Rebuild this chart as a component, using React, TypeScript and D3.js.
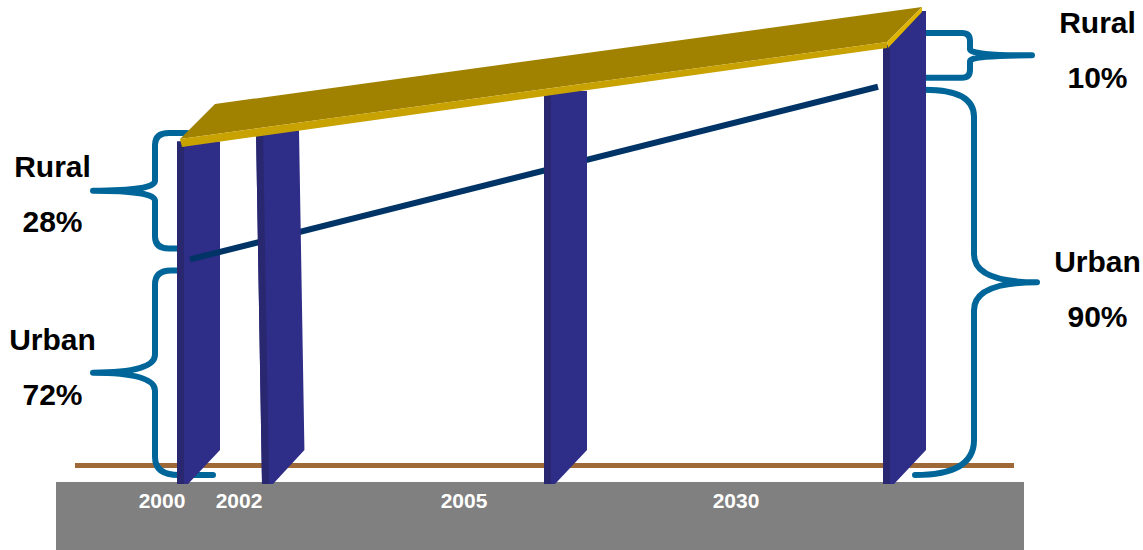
import React from "react";
import * as d3 from "d3";

// Category years shown on the ground strip
const years = ["2000", "2002", "2005", "2030"];
// Years where the urban / rural split is annotated
const shareYears = ["2000", "2030"];
const urbanPct = [72, 90];
const ruralPct = [28, 10];
const seriesNames = ["Rural", "Urban"];

const W = 1143;
const H = 550;

// Layout of the scene
const barLeft = d3.scaleOrdinal<string, number>().domain(years).range([177, 256, 544, 883]);
const barLean = d3.scaleOrdinal<string, number>().domain(years).range([0, 6, 0, 0]);
const yearLabelX = d3.scaleOrdinal<string, number>().domain(years).range([162, 239, 464, 736]);

// Front edge of the 100% slab, sloping upward to the right
const slabFront = d3.scaleLinear().domain([180, 887]).range([139, 42]);
const slabDepth = { dx: 35, dy: -35 };
// Share of the column (percent) -> pixel depth below the slab
const depth = d3.scaleLinear().domain([0, 100]).range([0, 435]);

const BAR_W = 43;
const BAR_BOTTOM = 484;
const BAR_CUT = 450;
const GROUND_Y = 465.5;

const COLORS = {
  ground: "#808080",
  groundLine: "#9E6936",
  barFace: "#2E2D87",
  barSide: "#28276F",
  slabTop: "#A08200",
  slabFront: "#C8A200",
  slabSide: "#DDB400",
  split: "#003366",
  brace: "#006699",
};

type Pt = [number, number];

// Post outline: custom top edge, straight sides, bevelled bottom-right corner
function barPath(x0: number, topPts: Pt[], lean: number) {
  const topRight = topPts[topPts.length - 1][1];
  const topLeft = topPts[0][1];
  const t = (BAR_CUT - topRight) / (BAR_BOTTOM - topRight);
  const pts: Pt[] = [
    ...topPts,
    [x0 + BAR_W + lean * t, BAR_CUT],
    [x0 + lean + 11, BAR_BOTTOM],
    [x0 + lean, BAR_BOTTOM],
    [x0, topLeft],
  ];
  return d3.line()(pts) + "Z";
}

function stripPath(x0: number, top: number, lean: number) {
  const pts: Pt[] = [
    [x0, top],
    [x0 + 7, top],
    [x0 + 7 + lean, BAR_BOTTOM],
    [x0 + lean, BAR_BOTTOM],
  ];
  return d3.line()(pts) + "Z";
}

interface BraceSpec {
  xTop: number;
  xBot: number;
  y0: number;
  y1: number;
  spine: number;
  tipX: number;
  tipY: number;
  rxT: number;
  ryT: number;
  rxB: number;
  ryB: number;
  cusp: number;
}

function bracePath(b: BraceSpec) {
  const dir = b.spine < b.xTop ? 1 : -1; // 1: opens right "{", -1: opens left "}"
  const p = d3.path();
  p.moveTo(b.xTop, b.y0);
  p.lineTo(b.spine + dir * b.rxT, b.y0);
  p.quadraticCurveTo(b.spine, b.y0, b.spine, b.y0 + b.ryT);
  p.lineTo(b.spine, b.tipY - b.cusp);
  p.quadraticCurveTo(b.spine, b.tipY, b.tipX, b.tipY);
  p.quadraticCurveTo(b.spine, b.tipY, b.spine, b.tipY + b.cusp);
  p.lineTo(b.spine, b.y1 - b.ryB);
  p.quadraticCurveTo(b.spine, b.y1, b.spine + dir * b.rxB, b.y1);
  p.lineTo(b.xBot, b.y1);
  return p.toString();
}

export default function App() {
  const frontL: Pt = [180, slabFront(180)];
  const frontR: Pt = [887, slabFront(887)];
  const backL: Pt = [frontL[0] + slabDepth.dx, frontL[1] + slabDepth.dy];
  const backR: Pt = [frontR[0] + slabDepth.dx, frontR[1] + slabDepth.dy];

  // Top outline of each post: hidden under the slab, or following its end for the last one
  const barTopPts = (y: string): Pt[] => {
    const x0 = barLeft(y);
    const t = slabFront(x0) + 2;
    if (x0 + BAR_W > frontR[0]) {
      return [
        [x0, t],
        [frontR[0], frontR[1] + 4],
        [backR[0], backR[1] + 4],
        [x0 + BAR_W, backR[1] + 4],
      ];
    }
    return [
      [x0, t],
      [x0 + BAR_W, t],
    ];
  };

  // Urban/rural split line between the first and last annotated years
  const splitX = [barLeft(shareYears[0]) + 13, barLeft(shareYears[1]) - 5];
  const splitPts: Pt[] = shareYears.map((_, i) => [
    splitX[i],
    slabFront(splitX[i]) + depth(100 - urbanPct[i]),
  ]);

  const yLeftSplit = splitPts[0][1];
  const yRightSplit = splitPts[1][1];
  const braceBottom = GROUND_Y + 9.5;

  const braces: BraceSpec[] = [
    {
      xTop: 187, xBot: 178, y0: slabFront(180) - 6, y1: yLeftSplit - 11,
      spine: 155, tipX: 93, tipY: 0, rxT: 14, ryT: 12, rxB: 14, ryB: 12, cusp: 10,
    },
    {
      xTop: 177, xBot: 213, y0: yLeftSplit + 11, y1: braceBottom,
      spine: 155, tipX: 93, tipY: 0, rxT: 16, ryT: 14, rxB: 24, ryB: 18, cusp: 18,
    },
    {
      xTop: 925, xBot: 925, y0: slabFront(887) - 9, y1: yRightSplit - 9,
      spine: 970, tipX: 1032, tipY: 0, rxT: 8, ryT: 8, rxB: 8, ryB: 8, cusp: 6,
    },
    {
      xTop: 925, xBot: 915, y0: yRightSplit + 3, y1: braceBottom,
      spine: 974, tipX: 1037, tipY: 0, rxT: 49, ryT: 27, rxB: 59, ryB: 35, cusp: 28,
    },
  ].map((b) => ({ ...b, tipY: (b.y0 + b.y1) / 2 }));

  const labelFont = "Arial, 'Liberation Sans', sans-serif";
  const sideLabels = [
    { x: 52.5, name: seriesNames[0], pct: ruralPct[0], y: 177 },
    { x: 52.5, name: seriesNames[1], pct: urbanPct[0], y: 350 },
    { x: 1097.5, name: seriesNames[0], pct: ruralPct[1], y: 33 },
    { x: 1097.5, name: seriesNames[1], pct: urbanPct[1], y: 272 },
  ];

  const drawBar = (y: string) => {
    const x0 = barLeft(y);
    const topPts = barTopPts(y);
    const lean = barLean(y);
    return (
      <g key={y}>
        <path d={barPath(x0, topPts, lean)} fill={COLORS.barFace} />
        <path d={stripPath(x0, topPts[0][1], lean)} fill={COLORS.barSide} />
      </g>
    );
  };

  return (
    <svg
      width={W}
      height={H}
      viewBox={`0 0 ${W} ${H}`}
      style={{ position: "absolute", left: 0, top: 0, background: "#fff" }}
      fontFamily={labelFont}
    >
      <rect x={56} y={482} width={968} height={H - 482} fill={COLORS.ground} />
      <line x1={75} x2={1014} y1={GROUND_Y} y2={GROUND_Y} stroke={COLORS.groundLine} strokeWidth={5} />

      {braces.map((b, i) => (
        <path
          key={i}
          d={bracePath(b)}
          fill="none"
          stroke={COLORS.brace}
          strokeWidth={6}
          strokeLinecap="round"
          strokeLinejoin="round"
        />
      ))}

      {drawBar(years[0])}
      <path d={d3.line()(splitPts) ?? ""} stroke={COLORS.split} strokeWidth={6} fill="none" />
      {years.slice(1).map(drawBar)}

      {/* 100% slab */}
      <path d={d3.line()([frontL, frontR, backR, backL]) + "Z"} fill={COLORS.slabTop} />
      <path
        d={d3.line()([frontL, frontR, [frontR[0], frontR[1] + 6], [frontL[0] + 2, frontL[1] + 8]]) + "Z"}
        fill={COLORS.slabFront}
      />
      <path
        d={d3.line()([frontR, backR, [backR[0], backR[1] + 5], [frontR[0] + 1, frontR[1] + 6]]) + "Z"}
        fill={COLORS.slabSide}
      />

      {sideLabels.map((l, i) => (
        <g key={i} fontWeight="bold" fontSize={30} fill="#000" textAnchor="middle">
          <text x={l.x} y={l.y}>{l.name}</text>
          <text x={l.x} y={l.y + 55}>{`${l.pct}%`}</text>
        </g>
      ))}

      {years.map((y) => (
        <text
          key={y}
          x={yearLabelX(y)}
          y={508}
          fill="#fff"
          fontWeight="bold"
          fontSize={21}
          textAnchor="middle"
        >
          {y}
        </text>
      ))}
    </svg>
  );
}
